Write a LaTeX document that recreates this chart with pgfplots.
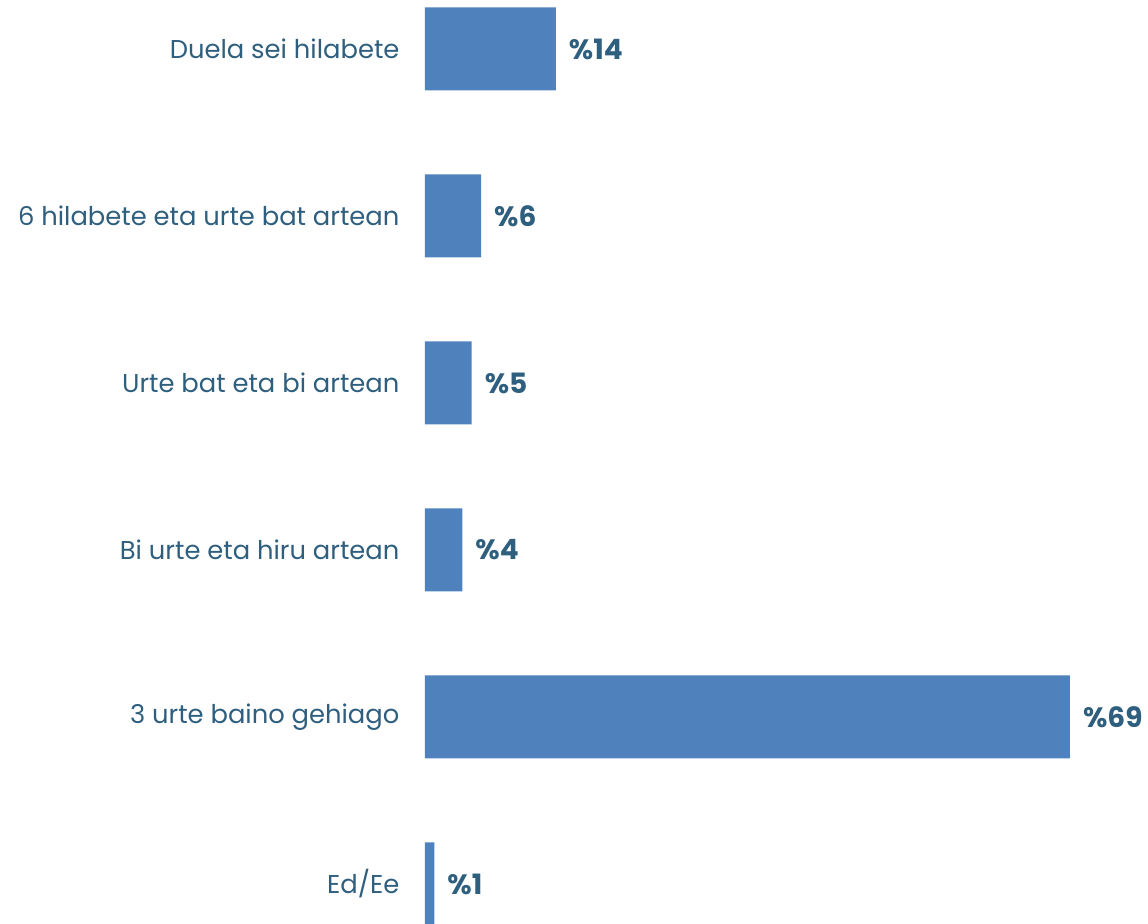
\documentclass[border=0pt]{standalone}
\usepackage{pgfplots}
\pgfplotsset{compat=1.18}
\usepackage{fontspec}
\setmainfont{Poppins}
\definecolor{barblue}{HTML}{4F81BD}
\definecolor{labtxt}{HTML}{2F5F7E}
\begin{document}
\begin{tikzpicture}
\begin{axis}[
    name=ax,
    xbar,
    scale only axis,
    width=322.5pt,
    height=461.5pt,
    xmin=0, xmax=69,
    ymin=-0.293, ymax=5.234,
    y dir=reverse,
    bar width=41.5pt,
    axis line style={draw=none},
    major tick style={draw=none},
    xtick=\empty,
    ytick={0,1,2,3,4,5},
    yticklabels={Duela sei hilabete,6 hilabete eta urte bat artean,Urte bat eta bi artean,Bi urte eta hiru artean,3 urte baino gehiago,Ed/Ee},
    yticklabel style={font=\fontsize{12.9}{15}\selectfont, text=labtxt},
    ytick style={draw=none},
    y tick label style={xshift=-5pt},
    /pgf/number format/assume math mode=true,
    nodes near coords={\%\pgfmathprintnumber{\pgfplotspointmeta}},
    point meta=x,
    every node near coord/.append style={font=\bfseries\fontsize{14}{16}\selectfont, text=labtxt, xshift=3pt},
    clip=true,
]
\addplot[fill=barblue, draw=none] coordinates {(14,0) (6,1) (5,2) (4,3) (69,4) (1,5)};
\end{axis}
\pgfresetboundingbox
\useasboundingbox ([xshift=-212.5pt]ax.south west) rectangle ([xshift=39pt]ax.north east);
\end{tikzpicture}
\end{document}
